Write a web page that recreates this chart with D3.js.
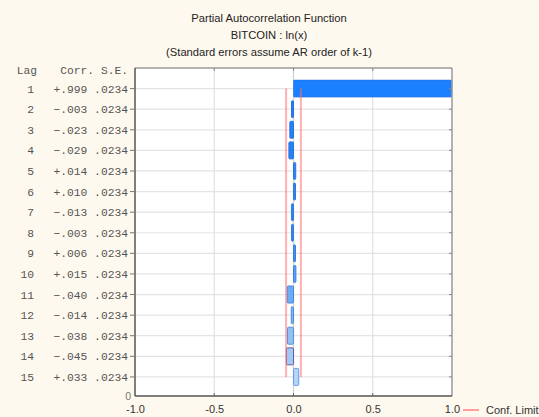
<!DOCTYPE html>
<html><head><meta charset="utf-8">
<script src="https://cdn.jsdelivr.net/npm/d3@7"></script>
<style>html,body{margin:0;padding:0;background:#fef9ee;}svg{display:block;}</style>
</head><body><svg id="c" width="539" height="417"></svg>
<script>
const titleLines = ["Partial Autocorrelation Function", "BITCOIN : ln(x)", "(Standard errors assume AR order of k-1)"];
const lags = [1,2,3,4,5,6,7,8,9,10,11,12,13,14,15];
const corr = [0.999,-0.003,-0.023,-0.029,0.014,0.010,-0.013,-0.003,0.006,0.015,-0.040,-0.014,-0.038,-0.045,0.033];
const corrLabels = ["+.999","-.003","-.023","-.029","+.014","+.010","-.013","-.003","+.006","+.015","-.040","-.014","-.038","-.045","+.033"];
const seLabels = Array(15).fill(".0234");
const se = 0.0234;
const xTicks = [-1.0,-0.5,0.0,0.5,1.0];
const header = ["Lag","Corr.","S.E."];
const bottomLabel = "0";
const legendLabel = "Conf. Limit";

const svg = d3.select("#c");
const L = 135, R = 452, T = 68, B = 396;
const x = d3.scaleLinear().domain([-1,1]).range([L,R]);
const y = d3.scaleLinear().domain([0,16]).range([T,397.5]);
const fill = d3.scaleLinear().domain([1,8,10,15]).range(["#1a80ff","#2a86f2","#5aa2f0","#b3d5f9"]);
const strokeC = d3.scaleLinear().domain([1,10,15]).range(["#2a6fd8","#3d7ddc","#6a9be0"]);
const sans = "Liberation Sans, Arial, sans-serif";

// titles
svg.selectAll("text.title").data(titleLines).join("text")
  .attr("x", 269).attr("y", (d,i)=>22+i*17).attr("text-anchor","middle")
  .attr("font-family",sans).attr("font-size","11.2px").attr("fill","#222").text(d=>d);

// plot bg
svg.append("rect").attr("x",L).attr("y",T).attr("width",R-L).attr("height",B-T).attr("fill","#fff");

// gridlines horizontal
svg.selectAll("line.hg").data(lags).join("line")
  .attr("x1",L).attr("x2",R).attr("y1",d=>y(d)).attr("y2",d=>y(d))
  .attr("stroke","#e4e4e4").attr("stroke-width",1.2);
// vertical gridlines
svg.selectAll("line.vg").data(xTicks.slice(1,-1)).join("line")
  .attr("x1",d=>x(d)).attr("x2",d=>x(d)).attr("y1",T).attr("y2",B)
  .attr("stroke",d=>d===0?"#d0d0d0":"#e0e0e0").attr("stroke-width",1.2);

// bars
const bh = 17;
svg.selectAll("rect.bar").data(lags).join("rect")
  .attr("x",(d,i)=>{const w=Math.max(Math.abs(x(corr[i])-x(0)),2); return corr[i]>=0?x(0):x(0)-w;})
  .attr("width",(d,i)=>Math.min(Math.max(Math.abs(x(corr[i])-x(0)),2), R-x(0)))
  .attr("y",d=>y(d)-bh/2).attr("height",bh).attr("rx",1)
  .attr("fill",d=>fill(d))
  .attr("stroke",d=>d===14?"#6a5aa8":strokeC(d)).attr("stroke-width",d=>d===1?0.6:1);

// conf limits
[-2*se, 2*se].forEach(v=>{
  svg.append("line").attr("x1",x(v)).attr("x2",x(v)).attr("y1",y(1)).attr("y2",y(15))
    .attr("stroke","#ff7070").attr("stroke-opacity",0.55).attr("stroke-width",2);
});

// frame
svg.append("line").attr("x1",L).attr("x2",R).attr("y1",T).attr("y2",T).attr("stroke","#9a9a9a").attr("stroke-width",1.5);
svg.append("line").attr("x1",R).attr("x2",R).attr("y1",T).attr("y2",B).attr("stroke","#9a9a9a").attr("stroke-width",1.5);
svg.append("line").attr("x1",L).attr("x2",L).attr("y1",T).attr("y2",B).attr("stroke","#555").attr("stroke-width",1.5);
svg.append("line").attr("x1",L).attr("x2",R).attr("y1",B).attr("y2",B).attr("stroke","#555").attr("stroke-width",1.5);

// top ticks & right ticks
svg.selectAll("line.tt").data(xTicks.slice(1,-1)).join("line")
  .attr("x1",d=>x(d)).attr("x2",d=>x(d)).attr("y1",T).attr("y2",T+3).attr("stroke","#888");
svg.selectAll("line.rt").data(lags).join("line")
  .attr("x1",R-3).attr("x2",R).attr("y1",d=>y(d)).attr("y2",d=>y(d)).attr("stroke","#888");
// left ticks
svg.selectAll("line.lt").data(lags).join("line")
  .attr("x1",L-5).attr("x2",L).attr("y1",d=>y(d)).attr("y2",d=>y(d)).attr("stroke","#777");

// bottom axis
const xa = svg.append("g").attr("transform",`translate(0,${B})`)
  .call(d3.axisBottom(x).tickValues(xTicks).tickFormat(d3.format(".1f")).tickSize(0).tickPadding(9));
xa.select(".domain").remove();
xa.selectAll("text").attr("font-family",sans).attr("font-size","11px").attr("fill","#333")
  .text(d=>d3.format(".1f")(d).replace("−","-"));
svg.selectAll("line.bt").data(xTicks.slice(1,-1)).join("line")
  .attr("x1",d=>x(d)).attr("x2",d=>x(d)).attr("y1",B-3).attr("y2",B).attr("stroke","#666");

// left table
const mono = "Liberation Mono, Courier New, monospace";
svg.append("text").attr("x",37).attr("y",T+6).attr("text-anchor","end").attr("font-family",mono).attr("font-size","11.3px").attr("fill","#555").text(header[0]);
svg.append("text").attr("x",128).attr("y",T+6).attr("text-anchor","end").attr("font-family",mono).attr("font-size","11.3px").attr("fill","#555").attr("xml:space","preserve").text(header[1]+" "+header[2]);
svg.selectAll("text.lag").data(lags).join("text")
  .attr("x",34).attr("y",d=>y(d)+4).attr("text-anchor","end").attr("font-family",mono).attr("font-size","11.3px").attr("fill","#555").text(d=>d);
svg.selectAll("text.cv").data(lags).join("text")
  .attr("x",128).attr("y",d=>y(d)+4).attr("text-anchor","end").attr("font-family",mono).attr("font-size","11.3px").attr("fill","#555")
  .attr("xml:space","preserve").text((d,i)=>corrLabels[i].replace("-","\u2212")+" "+seLabels[i]);
svg.append("text").attr("x",131).attr("y",B+4).attr("text-anchor","end").attr("font-family",sans).attr("font-size","10.5px").attr("fill","#777").text(bottomLabel);

// legend
svg.append("line").attr("x1",463).attr("x2",479).attr("y1",410).attr("y2",410).attr("stroke","#ff8080").attr("stroke-width",1.5);
svg.append("text").attr("x",486).attr("y",414).attr("font-family",sans).attr("font-size","11px").attr("fill","#333").text(legendLabel);
</script></body></html>
